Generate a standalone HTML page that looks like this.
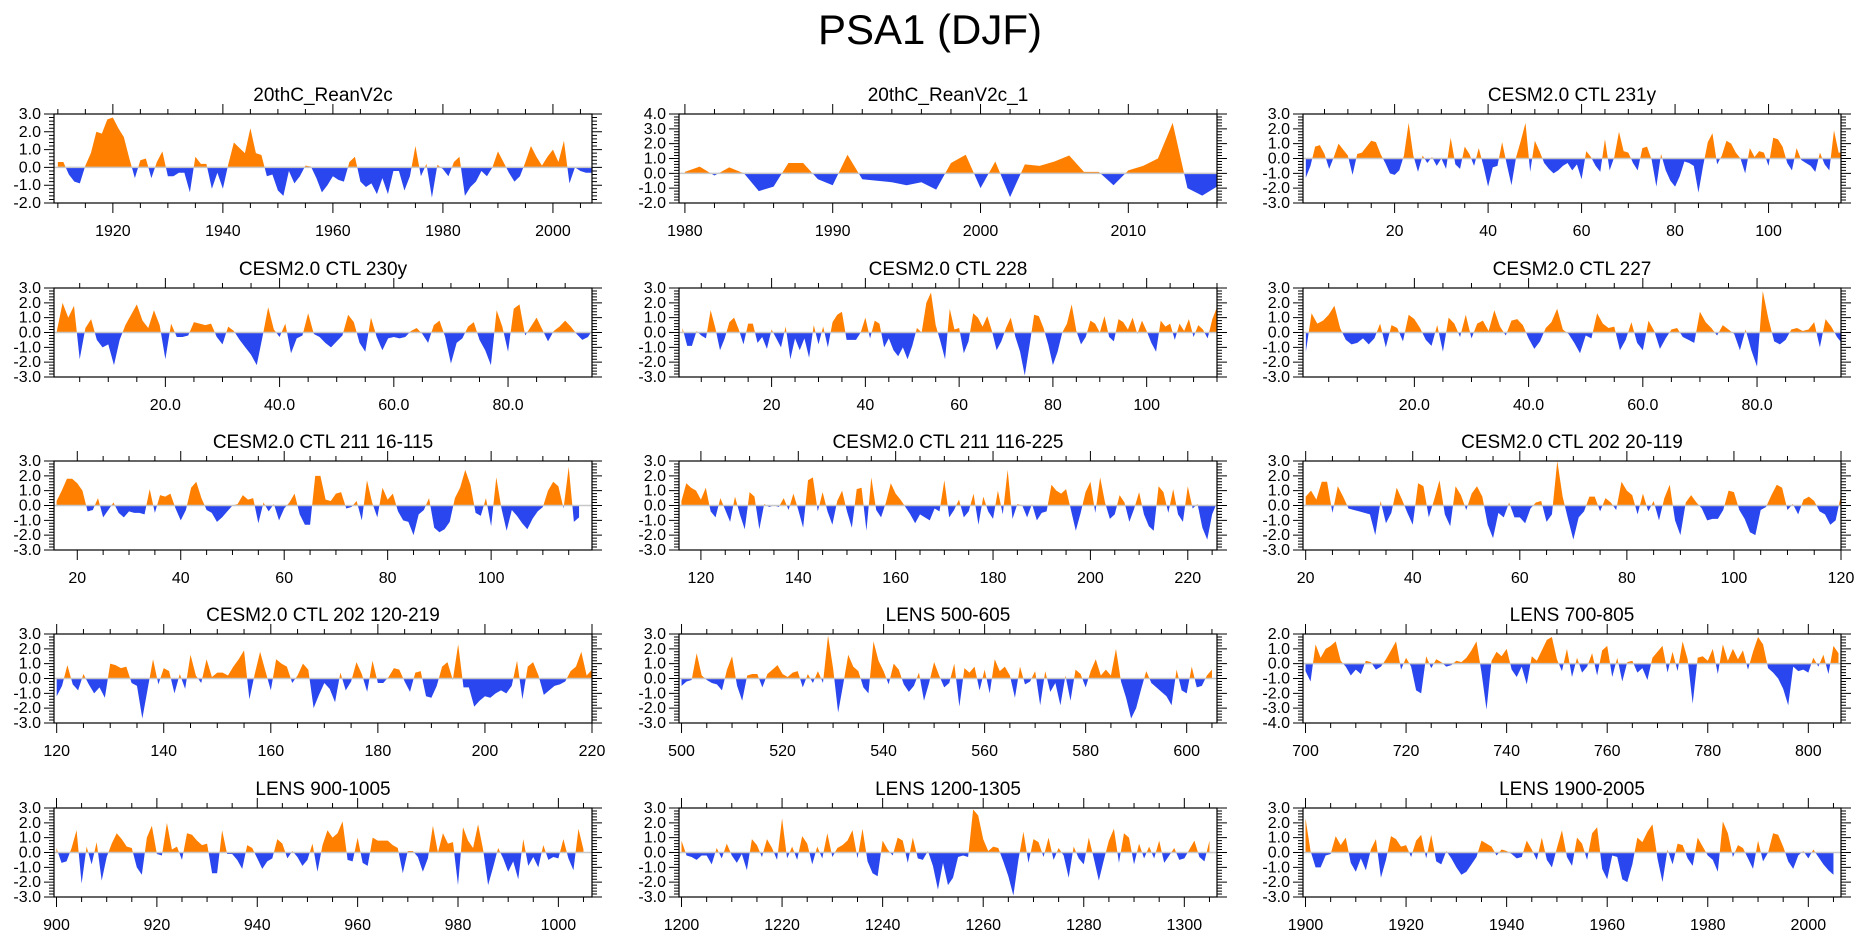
<!DOCTYPE html>
<html><head><meta charset="utf-8">
<style>
html,body{margin:0;padding:0;background:#fff;}
body{width:1861px;height:937px;overflow:hidden;font-family:"Liberation Sans",Arial,sans-serif;}
svg text{font-family:"Liberation Sans",Arial,sans-serif;}
</style></head>
<body>
<svg id="chart" width="1861" height="937" viewBox="0 0 1861 937" xmlns="http://www.w3.org/2000/svg">
<text x="930" y="44" font-size="42" text-anchor="middle" fill="#000">PSA1 (DJF)</text>
</svg>
<script>
const titles = ["20thC_ReanV2c","20thC_ReanV2c_1","CESM2.0 CTL 231y","CESM2.0 CTL 230y","CESM2.0 CTL 228","CESM2.0 CTL 227","CESM2.0 CTL 211 16-115","CESM2.0 CTL 211 116-225","CESM2.0 CTL 202 20-119","CESM2.0 CTL 202 120-219","LENS 500-605","LENS 700-805","LENS 900-1005","LENS 1200-1305","LENS 1900-2005"];
const firstYear = [1910,1980,1,1,1,1,16,116,20,120,500,700,900,1200,1900];
const xMinVals = [1909.3,1979.6,0.4,0.5,0.25,0.5,15.5,115.5,19.5,119.5,499.5,699.5,899.5,1199.5,1899.5];
const xMaxVals = [2007.1,2016,115.5,94.7,115,94.7,119.5,226,120,220,606,806.5,1006.7,1306.5,2006.5];
const yMinVals = [-2,-2,-3,-3,-3,-3,-3,-3,-3,-3,-3,-4,-3,-3,-3];
const yMaxVals = [3,4,3,3,3,3,3,3,3,3,3,2,3,3,3];
const xMajorTicks = [
 [1920,1940,1960,1980,2000],[1980,1990,2000,2010],[20,40,60,80,100],
 [20,40,60,80],[20,40,60,80,100],[20,40,60,80],
 [20,40,60,80,100],[120,140,160,180,200,220],[20,40,60,80,100,120],
 [120,140,160,180,200,220],[500,520,540,560,580,600],[700,720,740,760,780,800],
 [900,920,940,960,980,1000],[1200,1220,1240,1260,1280,1300],[1900,1920,1940,1960,1980,2000]];
const xTickLabels = [
 ["1920","1940","1960","1980","2000"],["1980","1990","2000","2010"],["20","40","60","80","100"],
 ["20.0","40.0","60.0","80.0"],["20","40","60","80","100"],["20.0","40.0","60.0","80.0"],
 ["20","40","60","80","100"],["120","140","160","180","200","220"],["20","40","60","80","100","120"],
 ["120","140","160","180","200","220"],["500","520","540","560","580","600"],["700","720","740","760","780","800"],
 ["900","920","940","960","980","1000"],["1200","1220","1240","1260","1280","1300"],["1900","1920","1940","1960","1980","2000"]];
const xMinorStep = [5,2,5,5,5,5,5,5,5,5,5,5,5,5,5];

const s1 = [0.3,0.3,-0.4,-0.8,-0.9,0.1,0.8,2.0,1.9,2.7,2.8,2.2,1.7,0.5,-0.6,0.4,0.5,-0.6,0.3,0.9,-0.5,-0.5,-0.3,-0.3,-1.4,0.6,0.2,0.2,-1.2,-0.3,-1.2,0.2,1.4,1.1,0.8,2.2,0.8,0.7,-0.5,-0.4,-1.3,-1.6,-0.2,-0.9,-0.5,0.1,0.05,-0.6,-1.4,-1.0,-0.5,-0.7,-0.8,0.3,0.6,-0.8,-1.1,-0.9,-1.5,-0.6,-1.5,-0.2,-0.2,-1.3,-0.5,1.2,-0.5,0.2,-1.7,0.15,-0.1,-0.5,0.3,0.6,-1.6,-1.1,-0.8,-0.2,-0.5,0.0,0.9,0.3,-0.3,-0.8,-0.5,0.3,1.2,0.6,0.1,0.6,1.0,0.3,1.5,-0.9,0.0,-0.2,-0.3,-0.3];
const s2 = [0.1,0.45,-0.15,0.4,0.0,-1.2,-0.9,0.7,0.7,-0.4,-0.8,1.25,-0.4,-0.5,-0.6,-0.8,-0.6,-1.1,0.7,1.25,-1.0,0.8,-1.6,0.6,0.5,0.8,1.2,0.1,0.1,-0.8,0.2,0.5,1.0,3.4,-1.0,-1.5,-0.9];
const s3 = [-1.3,-0.5,0.8,0.9,0.3,-0.7,0.1,1.0,0.6,0.2,-1.1,0.3,0.4,0.8,1.2,1.1,0.3,-0.3,-1.0,-1.1,-0.8,0.2,2.4,0.2,-0.9,0.2,-0.3,0.1,-0.5,0.0,-0.7,1.4,-0.4,-0.7,0.8,0.3,-0.5,0.7,-0.5,-1.9,-0.6,-0.5,1.1,-0.4,-1.8,0.1,1.2,2.4,-0.9,1.2,0.5,-0.3,-0.7,-1.0,-0.8,-0.5,-0.3,-0.8,-0.4,-1.4,0.5,0.1,-0.5,-0.9,1.3,-0.8,0.1,1.8,0.5,0.4,-0.3,-0.8,0.7,0.8,-0.1,-1.9,0.3,-0.8,-1.5,-1.9,-1.2,-0.2,-0.3,-0.5,-2.3,-0.5,1.1,1.7,-0.4,0.2,1.2,1.0,0.4,0.0,-1.0,0.7,0.1,0.5,0.4,-0.5,1.4,1.3,0.8,-0.3,-0.8,0.7,-0.1,-0.3,-0.5,-0.9,0.4,-0.4,-0.8,1.9,0.4,0.4,-1.2,-1.0,0.8];
const s4 = [0.1,2.0,1.0,1.8,-1.8,0.3,0.9,-0.5,-1.0,-0.8,-2.2,-0.5,0.5,1.2,1.9,0.8,0.3,1.5,0.5,-1.8,0.6,-0.3,-0.3,-0.2,0.7,0.6,0.5,0.6,-0.3,-0.8,0.4,0.1,-0.5,-1.0,-1.5,-2.2,-0.3,1.7,0.2,-0.3,0.6,-1.4,-0.4,-0.2,1.3,-0.1,-0.3,-0.7,-1.0,-0.6,-0.2,1.2,0.7,-0.7,-1.3,1.0,-0.3,-1.2,-0.4,-0.3,-0.4,-0.3,0.1,0.3,-0.1,-0.7,0.5,0.8,-0.3,-2.1,-0.7,-0.4,0.4,0.7,-0.5,-1.2,-2.2,1.5,0.4,-1.3,1.6,1.9,-0.2,0.4,1.0,0.2,-0.6,0.1,0.4,0.8,0.4,-0.1,-0.5,-0.3,0.3,0.6,1.0,0.2,-0.5];
const s5 = [0.3,-0.9,-0.9,0.1,-0.2,-0.4,1.5,0.3,-1.2,-0.4,0.7,1.0,0.2,-0.8,0.6,0.6,-0.7,-0.3,-1.1,0.2,-0.4,-1.0,0.4,-1.8,-0.4,-1.2,-0.4,-1.7,0.5,-0.8,0.4,-1.0,0.7,1.2,1.4,-0.5,-0.5,-0.5,0.0,1.0,-0.4,0.8,0.6,-1.0,-0.4,-1.2,-1.6,-1.0,-1.8,-0.9,0.3,0.0,2.0,2.7,0.5,-0.6,-1.8,1.6,0.2,0.3,-1.4,-0.6,1.3,1.0,0.4,1.1,0.1,-1.2,-0.6,0.3,1.0,-0.3,-1.3,-2.9,-0.9,1.2,1.1,0.3,-0.8,-2.2,-1.3,0.0,0.6,1.9,0.1,-0.8,-0.3,0.8,0.6,0.0,1.1,-0.3,-0.6,0.9,0.7,0.2,1.0,-0.1,0.8,0.1,-0.7,-1.3,0.8,0.4,0.6,-0.5,0.6,0.1,0.9,-0.3,0.5,0.2,-0.4,0.9,1.7];
const s6 = [-1.3,1.3,0.6,0.8,1.2,1.8,0.3,-0.5,-0.8,-0.7,-0.4,-0.8,-0.4,0.6,-1.0,0.5,0.3,-0.6,1.2,0.9,0.3,-0.5,-0.9,0.5,-1.3,1.0,0.6,-0.3,1.2,-0.4,0.6,0.8,0.1,1.5,0.4,-0.2,0.8,0.9,0.5,-0.4,-1.1,-0.6,0.3,0.7,1.6,0.2,-0.1,-0.7,-1.4,-0.2,-0.4,1.3,0.6,0.3,0.4,-1.2,-0.5,0.7,-0.7,-1.2,0.8,0.1,-1.1,-0.4,0.2,0.3,-0.3,-0.5,-0.7,1.4,0.7,0.3,-0.2,0.5,0.2,-0.1,-1.2,0.2,-1.2,-2.3,2.8,0.9,-0.6,-0.8,-0.5,0.2,0.3,0.1,0.2,0.7,-1.0,0.9,0.4,-0.3,-0.8];
const s7 = [0.3,1.0,1.8,1.8,1.5,1.0,-0.4,-0.3,0.5,-0.8,-0.3,0.2,-0.5,-0.8,-0.4,-0.5,-0.5,-0.6,1.1,-0.5,0.7,0.6,0.8,-0.2,-1.0,-0.3,1.2,1.6,0.5,-0.3,-0.5,-1.1,-0.8,-0.4,0.0,0.1,0.7,0.4,0.5,-1.2,0.2,-0.4,0.1,-1.0,-0.2,0.2,0.8,-0.6,-1.3,-1.3,2.0,2.0,0.4,0.3,0.8,0.9,-0.2,-0.1,0.3,-1.0,1.7,0.2,-0.8,1.2,0.4,0.8,-0.4,-1.0,-1.1,-2.0,-0.6,-0.3,0.5,-1.5,-1.8,-1.6,-1.1,0.5,1.2,2.4,1.4,-0.5,-0.7,0.5,-1.4,1.9,-0.2,-1.7,-0.3,-0.7,-1.2,-1.6,-0.9,-0.4,-0.1,1.0,1.6,1.3,-0.2,2.6,-1.1,-0.8];
const s8 = [0.3,1.5,1.2,1.0,0.4,1.2,-0.4,-0.8,0.5,-0.3,-1.1,0.6,-0.6,-1.6,0.9,0.6,-1.6,0.1,-0.1,0.0,-0.1,0.5,-0.3,0.8,-0.3,-1.5,1.7,1.9,-0.4,0.9,-0.4,-1.3,0.3,1.0,-0.4,-1.5,1.1,1.2,-1.7,1.9,-0.3,-0.8,0.2,1.5,0.8,0.4,-0.1,-0.6,-1.2,-0.6,-0.8,-1.0,-0.2,-0.4,1.7,-0.8,-0.3,0.4,-0.8,-0.4,0.8,-1.3,0.6,-0.4,-0.9,1.0,-0.6,2.4,-0.9,0.1,0.0,-0.8,0.1,-1.0,-0.5,-0.4,1.4,1.0,0.8,1.1,-0.3,-1.7,-0.5,0.9,1.6,-0.5,1.9,0.2,-0.9,-0.6,0.7,0.2,-1.1,-0.2,0.9,-0.6,-1.4,-1.7,1.3,0.9,-0.5,1.1,-0.6,-1.1,1.3,-0.2,0.1,-1.5,-2.3,-0.6,0.2,1.1];
const s9 = [0.6,1.0,0.4,1.6,1.6,-0.5,1.3,0.6,-0.2,-0.3,-0.4,-0.5,-0.6,-2.0,0.3,-1.2,-0.5,1.2,0.4,-0.5,-1.3,1.5,1.3,-0.8,0.4,1.7,-0.6,-1.4,1.3,0.7,-0.3,0.8,1.3,0.6,-1.3,-2.2,-0.5,-0.8,0.2,-0.8,-0.8,-1.2,-0.2,0.2,0.3,-1.1,-0.6,3.0,0.6,-0.9,-2.3,-0.8,-0.4,0.6,0.6,-0.4,0.5,0.2,-0.3,1.6,1.0,0.7,-0.6,0.8,-0.4,0.3,-1.0,0.5,1.4,-1.0,-2.0,0.2,0.7,0.2,-0.2,-1.0,-0.9,-0.9,-0.3,1.0,0.9,-0.3,-0.9,-1.8,-2.0,-0.3,-0.1,0.7,1.4,1.2,-0.3,0.1,-0.6,0.4,0.6,0.3,-0.4,-0.6,-1.3,-1.0,0.7,-0.4,0.1];
const s10 = [-1.2,-0.5,0.9,-0.4,-0.8,0.3,-0.4,-1.0,-0.6,-1.3,1.0,0.9,0.7,0.8,-0.3,-0.5,-2.7,-0.7,1.3,-0.4,0.7,0.5,-1.0,0.3,-0.7,1.6,0.2,-0.3,1.3,0.1,0.4,0.4,0.2,0.8,1.3,1.9,-1.4,0.3,1.8,0.5,-0.8,1.3,1.0,0.8,-0.3,0.2,1.0,0.6,-2.0,-1.1,-0.3,-0.7,-1.6,0.4,-0.8,-0.2,1.1,0.3,-0.9,1.2,-0.3,-0.3,0.1,0.7,0.6,-0.2,-0.9,0.4,0.5,-1.2,-1.3,-0.5,0.8,1.1,-0.1,2.3,-0.6,-0.6,-1.9,-1.5,-1.2,-1.3,-1.0,-0.8,-1.0,-0.5,1.2,-1.4,0.8,1.1,0.2,-1.1,-0.8,-0.5,-0.4,-0.2,0.5,0.8,1.8,0.2,0.6];
const s11 = [-0.5,-0.2,-0.1,1.7,0.2,-0.1,-0.3,-0.4,-0.8,0.6,1.5,-0.5,-1.5,0.2,0.3,0.3,-0.6,0.3,0.6,0.9,0.3,0.1,0.4,0.5,-0.6,0.3,-0.3,0.5,-0.3,2.9,0.7,-2.3,-0.4,1.6,0.8,0.5,-0.6,-1.0,2.5,1.2,0.5,-0.4,1.0,0.6,-0.4,-0.9,-0.5,0.4,-1.5,-0.3,1.1,0.2,-0.6,-0.3,1.0,-1.9,0.7,0.4,0.8,-0.8,0.6,-1.0,1.3,0.5,0.8,0.2,-1.3,0.8,-0.4,-0.2,0.5,-1.8,0.5,-0.9,-0.3,-1.8,0.2,-1.5,0.6,0.3,-0.6,0.5,1.3,0.2,0.6,0.2,2.0,-0.2,-1.3,-2.7,-2.0,-0.7,0.5,-0.3,-0.6,-0.9,-1.2,-1.8,0.6,-0.8,-1.0,0.8,-0.6,-0.5,0.2,0.6];
const s12 = [-0.5,-1.2,1.3,0.4,1.0,1.2,1.5,0.2,-0.2,-0.8,-0.4,-0.7,0.2,0.1,-0.4,-0.2,0.3,0.9,1.5,-0.4,0.4,-0.2,-1.8,-2.0,0.5,-0.3,0.3,0.1,-0.2,-0.1,0.2,0.1,0.4,0.9,1.5,-0.6,-3.1,0.2,0.8,0.5,1.0,-0.4,-0.9,-0.2,-1.4,0.5,0.2,0.9,1.6,1.8,0.3,-0.5,1.0,-0.9,0.4,-0.6,-0.2,0.7,-0.8,0.9,1.2,-0.9,0.4,-1.2,0.1,0.2,-0.6,-0.3,-1.1,0.4,0.8,1.2,-0.6,0.8,-0.5,1.5,0.3,-2.7,0.4,0.5,0.2,1.0,-0.7,1.3,0.2,1.0,0.3,0.9,-0.4,0.8,1.8,1.3,-0.3,-0.6,-1.0,-1.7,-2.8,-0.2,-0.5,-0.4,-0.6,0.4,-0.2,0.6,-0.7,1.2,0.7];
const s13 = [0.3,-0.7,-0.6,0.3,1.5,-2.1,0.4,-0.8,0.7,-1.9,-0.3,0.6,1.3,0.9,0.4,0.3,-1.0,-1.5,1.0,1.8,-0.1,-0.2,2.0,0.2,0.4,-0.5,1.3,1.2,0.8,0.5,0.6,-1.4,-1.4,1.5,-0.1,-0.1,-0.5,-1.1,0.5,0.3,-0.4,-1.1,-0.6,-0.4,0.9,0.6,-0.4,0.1,-0.3,-0.9,-0.5,0.6,-1.3,0.5,1.5,1.0,1.3,2.1,-0.5,-0.6,1.0,-0.7,-0.9,1.0,0.8,0.8,0.8,0.5,0.3,-1.4,0.1,0.1,-0.3,-1.3,-0.4,1.8,0.0,1.3,0.6,0.7,-2.2,1.7,0.8,0.3,1.9,0.2,-2.2,-1.0,0.3,-0.4,-1.3,-0.6,-1.8,0.9,-0.9,-0.3,-1.0,0.5,-0.5,-0.3,-0.4,0.9,-0.4,-1.2,1.6,0.2];
const s14 = [0.8,-0.2,-0.3,-0.5,-0.2,-0.2,-0.8,0.3,-0.4,0.6,-0.2,-0.7,-0.1,-1.2,0.9,0.5,-0.3,0.9,0.3,-0.5,2.3,-0.4,0.4,-0.5,1.1,0.6,-0.8,0.4,-0.4,1.3,-0.3,0.3,0.5,0.8,1.5,-0.4,1.6,-0.6,-1.4,-1.6,0.8,0.2,-0.2,1.0,0.8,-0.7,1.0,-0.4,-0.5,0.1,-0.9,-2.5,-0.7,-2.2,-1.7,-0.3,-0.2,-0.3,2.9,2.5,0.9,0.1,0.4,0.3,-0.6,-1.6,-2.9,-0.5,1.4,-0.7,0.9,0.7,-0.3,1.0,-0.5,0.3,-0.2,-1.7,0.4,-0.4,-0.8,1.0,-0.4,-1.9,-0.5,0.8,1.6,-0.7,1.3,1.0,-0.8,0.6,-0.4,0.4,-0.4,0.8,-0.7,-0.2,0.3,-0.5,-0.4,0.2,0.8,-0.3,-0.6,0.8];
const s15 = [2.3,0.1,-1.0,-1.0,-0.2,-0.1,1.1,0.5,1.0,-0.7,-1.3,-0.4,-1.2,0.2,0.9,-1.7,-0.5,1.1,0.9,0.4,0.5,-0.3,0.8,1.2,-0.4,1.2,-0.6,-0.8,0.1,-0.4,-1.0,-1.5,-1.3,-0.8,-0.3,0.8,0.6,0.4,-0.2,0.2,0.1,-0.1,-0.4,-0.3,0.8,0.2,-0.5,1.0,-0.5,-1.0,0.3,1.5,-0.3,-0.9,1.0,0.6,-0.5,1.3,1.7,-1.1,-1.8,-0.2,-0.3,-1.8,-2.0,-0.8,1.0,0.7,1.4,1.9,-0.4,-2.0,0.2,-0.8,0.6,0.5,-0.4,-0.9,1.0,0.4,-0.2,-0.5,-1.3,2.1,1.3,-0.3,0.5,0.3,-0.4,-1.1,0.8,-0.6,0.0,1.3,1.2,0.4,-0.6,-1.1,-0.2,0.1,-0.4,0.2,-0.3,-0.8,-1.2,-1.5];
const seriesValues = [s1,s2,s3,s4,s5,s6,s7,s8,s9,s10,s11,s12,s13,s14,s15];

const NS = "http://www.w3.org/2000/svg";
const svg = document.getElementById("chart");
const colLeft = [54, 679, 1303];
const rowTop = [114, 288, 461, 634, 808];
const PW = 538, PH = 89;
function mk(tag, attrs, parent){
  const e = document.createElementNS(NS, tag);
  for (const k in attrs) e.setAttribute(k, attrs[k]);
  (parent||svg).appendChild(e);
  return e;
}
function fmtY(v){ return v.toFixed(1); }

for (let p = 0; p < 15; p++) {
  const L = colLeft[p % 3], T = rowTop[Math.floor(p / 3)];
  const xmin = xMinVals[p], xmax = xMaxVals[p], ymin = yMinVals[p], ymax = yMaxVals[p];
  const xs = v => L + (v - xmin) / (xmax - xmin) * PW;
  const ys = v => T + (ymax - v) / (ymax - ymin) * PH;
  const g = mk("g", {});
  
  

  const t = mk("text", {x: L + PW / 2, y: T - 13, "font-size": 19, "text-anchor": "middle", fill: "#000"}, g);
  t.textContent = titles[p];
  
  

  const cid = "clip" + p;
  const defs = mk("defs", {}, g);
  const cpA = mk("clipPath", {id: cid + "a"}, defs);
  mk("rect", {x: L, y: T, width: PW, height: ys(0) - T}, cpA);
  const cpB = mk("clipPath", {id: cid + "b"}, defs);
  mk("rect", {x: L, y: ys(0), width: PW, height: T + PH - ys(0)}, cpB);

  const vals = seriesValues[p];
  const x0 = firstYear[p];
  let d = "M" + xs(x0).toFixed(2) + "," + ys(0).toFixed(2);
  for (let i = 0; i < vals.length; i++) {
    d += " L" + xs(x0 + i).toFixed(2) + "," + ys(vals[i]).toFixed(2);
  }
  d += " L" + xs(x0 + vals.length - 1).toFixed(2) + "," + ys(0).toFixed(2) + " Z";
  const pos = mk("path", {d: d, fill: "#ff8000", "clip-path": "url(#" + cid + "a)"}, g);
  
  
  const neg = mk("path", {d: d, fill: "#2a46ee", "clip-path": "url(#" + cid + "b)"}, g);
  
  
  const zl = mk("line", {x1: L, x2: L + PW, y1: ys(0), y2: ys(0), stroke: "#c8c8c8", "stroke-width": 1.5}, g);
  
  

  const fr = mk("rect", {x: L, y: T, width: PW, height: PH, fill: "none", stroke: "#000", "stroke-width": 1.2}, g);
  
  

  let tk = "";
  const ms = xMinorStep[p];
  for (let v = Math.ceil(xmin / ms) * ms; v <= xmax; v += ms) {
    const X = xs(v).toFixed(2);
    const major = xMajorTicks[p].indexOf(v) >= 0;
    const len = major ? 10 : 5;
    tk += "M" + X + "," + (T + PH) + " v" + len + " M" + X + "," + T + " v" + (-len) + " ";
  }
  for (let k = Math.round(ymin * 5); k <= Math.round(ymax * 5); k++) {
    const v = k / 5, Y = ys(v).toFixed(2);
    const len = (k % 5 === 0) ? 10 : 5;
    tk += "M" + L + "," + Y + " h" + (-len) + " M" + (L + PW) + "," + Y + " h" + len + " ";
  }
  const tp = mk("path", {d: tk, stroke: "#000", "stroke-width": 1, fill: "none"}, g);
  
  

  xMajorTicks[p].forEach((v, i) => {
    const lab = mk("text", {x: xs(v), y: T + PH + 33, "font-size": 16, "text-anchor": "middle", fill: "#000"}, g);
    lab.textContent = xTickLabels[p][i];
    
    
  });
  for (let v = ymin; v <= ymax; v++) {
    const lab = mk("text", {x: L - 13, y: ys(v) + 5, "font-size": 16, "text-anchor": "end", fill: "#000"}, g);
    lab.textContent = fmtY(v);
    
    
  }
}
</script>
</body></html>
